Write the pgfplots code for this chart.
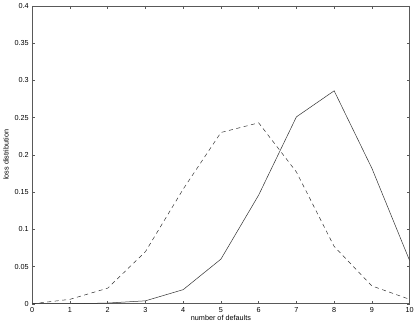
\documentclass[border=0pt]{standalone}
\usepackage{pgfplots}
\pgfplotsset{compat=1.18}
\usepackage{fontspec}
\setmainfont{Liberation Sans}

\begin{document}
\begin{tikzpicture}
\begin{axis}[
    scale only axis,
    width=375pt,
    height=296pt,
    xmin=0, xmax=10,
    ymin=0, ymax=0.4,
    xtick={0,1,...,10},
    ytick={0,0.05,0.1,0.15,0.2,0.25,0.3,0.35,0.4},
    tick align=inside,
    major tick length=3pt,
    axis line style={black!65, line width=0.6pt},
    tick style={black!65, line width=0.5pt},
    tick label style={font=\fontsize{7.2}{8}\selectfont},
    label style={font=\fontsize{7.2}{8}\selectfont},
    /pgf/number format/assume math mode=true,
    yticklabel style={/pgf/number format/fixed},
    xlabel={number of defaults},
    ylabel={loss distribution},
    xlabel style={yshift=4pt},
    ylabel style={yshift=-1pt},
]
\addplot[black!80, line width=0.5pt] coordinates {
(0,0) (1,0) (2,0.001) (3,0.004) (4,0.019) (5,0.060) (6,0.146) (7,0.251) (8,0.286) (9,0.182) (10,0.058)
};
\addplot[black!80, line width=0.5pt, dash pattern=on 4pt off 3.5pt] coordinates {
(0,0) (1,0.006) (2,0.021) (3,0.070) (4,0.154) (5,0.230) (6,0.243) (7,0.177) (8,0.077) (9,0.024) (10,0.006)
};
\end{axis}
\end{tikzpicture}
\end{document}
